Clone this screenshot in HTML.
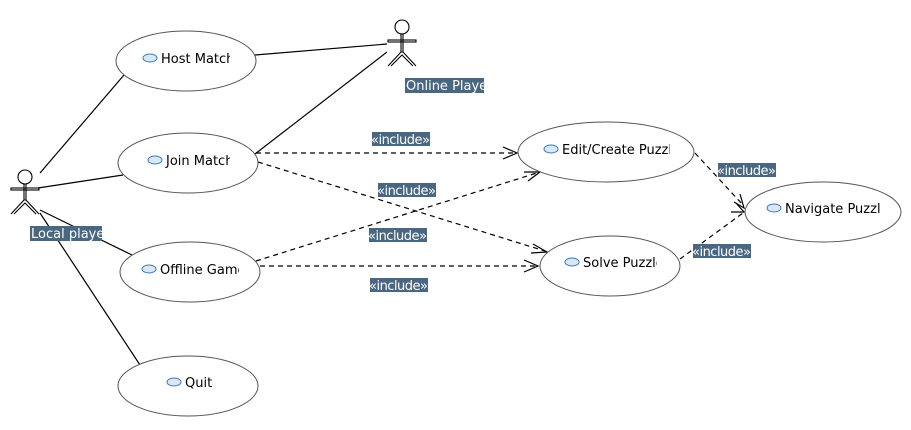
<!DOCTYPE html>
<html><head><style>
body{margin:0;background:#fff;}
svg text{font-family:"DejaVu Sans","Liberation Sans",sans-serif;font-size:13px;}
.lbl{fill:#fff}
</style></head><body>
<svg width="911" height="425" xmlns="http://www.w3.org/2000/svg">
<defs>
<clipPath id="c1"><rect x="160" y="40" width="70" height="40"/></clipPath>
<clipPath id="c2"><rect x="164" y="140" width="66" height="40"/></clipPath>
<clipPath id="c3"><rect x="158" y="250" width="81" height="40"/></clipPath>
<clipPath id="c4"><rect x="560" y="130" width="110" height="40"/></clipPath>
<clipPath id="c5"><rect x="582" y="245" width="75" height="40"/></clipPath>
<clipPath id="c6"><rect x="784" y="190" width="96" height="40"/></clipPath>
<clipPath id="c7"><rect x="405" y="76" width="79" height="18"/></clipPath>
<clipPath id="c8"><rect x="30" y="224" width="72" height="18"/></clipPath>
<clipPath id="ci"><rect x="0" y="0" width="911" height="425"/></clipPath>
</defs>
<g fill="none" stroke="#000" stroke-width="1.2">
<line x1="255" y1="55" x2="387" y2="44"/>
<line x1="255" y1="154" x2="387" y2="52"/>
<line x1="40" y1="173" x2="124" y2="75"/>
<line x1="38" y1="188" x2="123" y2="175"/>
<line x1="40" y1="210" x2="132" y2="255"/>
<line x1="40" y1="213" x2="140" y2="365"/>
</g>
<g fill="none" stroke="#000" stroke-width="1.2" stroke-dasharray="5,4">
<line x1="256" y1="153" x2="516" y2="153"/>
<line x1="258" y1="162" x2="548" y2="252"/>
<line x1="256" y1="261" x2="540" y2="172"/>
<line x1="260" y1="266" x2="538" y2="266"/>
<line x1="695" y1="153" x2="743" y2="205"/>
<line x1="680" y1="259" x2="743" y2="213"/>
</g>
<g fill="none" stroke="#000" stroke-width="1.2">
<polyline points="503,147 517,153 503,159"/>
<polyline points="533,244 547,252 531,253"/>
<polyline points="524,172 540,172 528,181"/>
<polyline points="524,260 538,266 524,272"/>
<polyline points="734,202 744,208 740,194"/>
<polyline points="731,212 744,212 736,203"/>
</g>
<g fill="#fff" stroke="#555" stroke-width="1">
<ellipse cx="186" cy="61" rx="70" ry="30"/>
<ellipse cx="188" cy="163" rx="70" ry="30"/>
<ellipse cx="190" cy="272" rx="70" ry="30"/>
<ellipse cx="188" cy="386" rx="70" ry="30"/>
<ellipse cx="606" cy="152" rx="88" ry="30"/>
<ellipse cx="610" cy="266" rx="70" ry="30"/>
<ellipse cx="823" cy="212" rx="78" ry="30"/>
</g>
<g fill="#dbe8f4" stroke="#3a78b5" stroke-width="1">
<ellipse cx="150" cy="58" rx="7" ry="4"/>
<ellipse cx="155" cy="160" rx="7" ry="4"/>
<ellipse cx="149" cy="269" rx="7" ry="4"/>
<ellipse cx="174" cy="382" rx="7" ry="4"/>
<ellipse cx="551" cy="149" rx="7" ry="4"/>
<ellipse cx="572" cy="262" rx="7" ry="4"/>
<ellipse cx="774" cy="208" rx="7" ry="4"/>
</g>
<g fill="#000">
<text x="161" y="63" clip-path="url(#c1)">Host Match</text>
<text x="166" y="165" clip-path="url(#c2)">Join Match</text>
<text x="160" y="274" clip-path="url(#c3)">Offline Game</text>
<text x="185" y="387">Quit</text>
<text x="562" y="154" clip-path="url(#c4)">Edit/Create Puzzle</text>
<text x="583" y="267" clip-path="url(#c5)">Solve Puzzle</text>
<text x="785" y="213" clip-path="url(#c6)">Navigate Puzzle</text>
</g>
<g fill="none" stroke="#000" stroke-width="1.1">
<circle cx="402" cy="27" r="7"/>
<rect x="388" y="40" width="28" height="2"/>
<line x1="401" y1="34" x2="401" y2="52"/><line x1="403" y1="34" x2="403" y2="52"/>
<polyline points="388,66 401,52 403,52 416,66"/>
<polyline points="391,66 402,55 413,66"/>
<circle cx="25" cy="177" r="7"/>
<rect x="11" y="188" width="28" height="2"/>
<line x1="24" y1="184" x2="24" y2="200"/><line x1="26" y1="184" x2="26" y2="200"/>
<polyline points="11,214 24,200 26,200 39,214"/>
<polyline points="14,214 25,203 36,214"/>
</g>
<g fill="#4a6782">
<rect x="405" y="78" width="79" height="15"/>
<rect x="30" y="226" width="72" height="15"/>
<rect x="372" y="132" width="58" height="14"/>
<rect x="378" y="183" width="58" height="14"/>
<rect x="369" y="228" width="58" height="14"/>
<rect x="370" y="278" width="58" height="14"/>
<rect x="718" y="163" width="58" height="14"/>
<rect x="693" y="244" width="58" height="14"/>
</g>
<g class="lbl">
<text x="406" y="90" clip-path="url(#c7)">Online Player</text>
<text x="31" y="238" clip-path="url(#c8)">Local player</text>
<text x="371" y="144" textLength="59">«include»</text>
<text x="377" y="195" textLength="59">«include»</text>
<text x="368" y="240" textLength="59">«include»</text>
<text x="369" y="290" textLength="59">«include»</text>
<text x="717" y="175" textLength="59">«include»</text>
<text x="692" y="256" textLength="59">«include»</text>
</g>
</svg>
</body></html>
